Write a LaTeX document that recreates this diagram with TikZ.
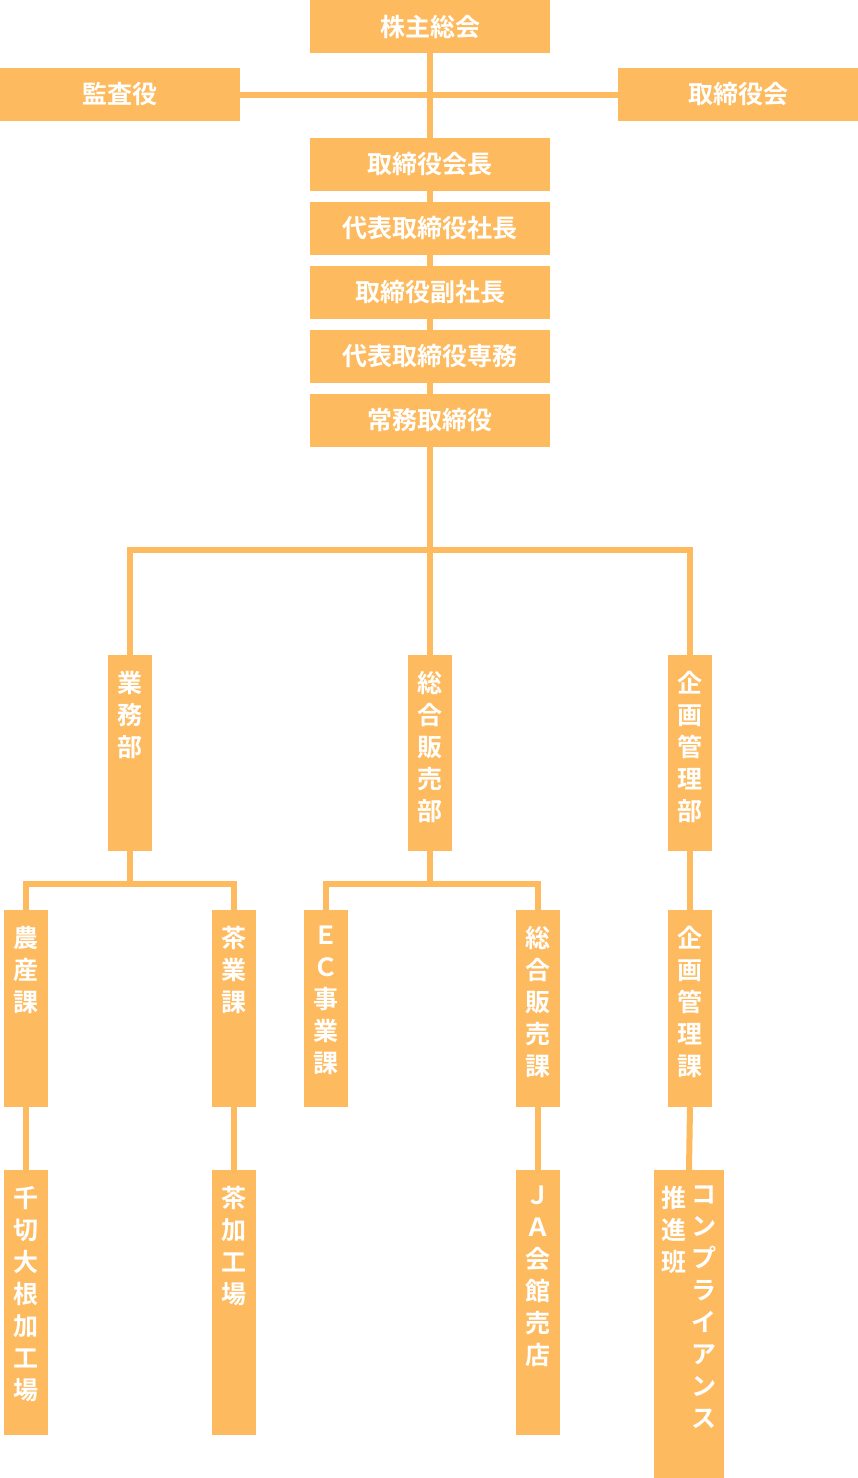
\documentclass[tikz,border=0pt]{standalone}
\usepackage{fontspec}
\newfontfamily\jp{Noto Sans CJK JP}[BoldFont={Noto Sans CJK JP Bold}]
\usetikzlibrary{backgrounds}
\definecolor{org}{HTML}{FDBA5E}
\tikzset{
  box/.style={fill=org,draw=none,inner sep=0pt},
  lbl/.style={text=white,font=\jp\bfseries\fontsize{25}{32}\selectfont,inner sep=0pt,align=center},
  conn/.style={draw=org,line width=6pt}
}
\newcommand{\bx}[5]{\node[box,minimum width={(#4-#2)*1pt},minimum height={(#5-#3)*1pt}] (#1) at ({(#2+#4)/2},{(#3+#5)/2}) {};}
\newcommand{\hl}[2]{\node[lbl] at (#1) {#2};}
\newcommand{\vl}[2]{\node[lbl,anchor=north] at ([yshift=-16pt]#1.north) {#2};}
\begin{document}
\begin{tikzpicture}[x=1pt,y=-1pt]
\useasboundingbox (0,0) rectangle (858,1478);
\bx{kabu}{310}{0}{550}{53}\hl{kabu}{株主総会}
\bx{kansa}{0}{68}{240}{121}\hl{kansa}{監査役}
\bx{tori}{618}{68}{858}{121}\hl{tori}{取締役会}
\bx{kaicho}{310}{138}{550}{191}\hl{kaicho}{取締役会長}
\bx{shacho}{310}{202}{550}{255}\hl{shacho}{代表取締役社長}
\bx{fuku}{310}{266}{550}{319}\hl{fuku}{取締役副社長}
\bx{senmu}{310}{330}{550}{383}\hl{senmu}{代表取締役専務}
\bx{joumu}{310}{394}{550}{447}\hl{joumu}{常務取締役}
\bx{gyomu}{108}{655}{152}{851}\vl{gyomu}{業\\務\\部}
\bx{sogo}{408}{655}{452}{851}\vl{sogo}{総\\合\\販\\売\\部}
\bx{kikaku}{668}{655}{712}{851}\vl{kikaku}{企\\画\\管\\理\\部}
\bx{nosan}{4}{910}{48}{1107}\vl{nosan}{農\\産\\課}
\bx{cha}{212}{910}{256}{1107}\vl{cha}{茶\\業\\課}
\bx{ec}{304}{910}{348}{1107}\vl{ec}{Ｅ\\Ｃ\\事\\業\\課}
\bx{sogoka}{516}{910}{560}{1107}\vl{sogoka}{総\\合\\販\\売\\課}
\bx{kikakuka}{668}{910}{712}{1107}\vl{kikakuka}{企\\画\\管\\理\\課}
\bx{sengiri}{4}{1170}{48}{1435}\vl{sengiri}{千\\切\\大\\根\\加\\工\\場}
\bx{chakako}{212}{1170}{256}{1435}\vl{chakako}{茶\\加\\工\\場}
\bx{ja}{516}{1170}{560}{1435}\vl{ja}{Ｊ\\Ａ\\会\\館\\売\\店}
\bx{comp}{654}{1170}{724}{1478}
\node[lbl,anchor=north] at ([xshift=15pt,yshift=-16pt]comp.north) {コ\\ン\\プ\\ラ\\イ\\ア\\ン\\ス};
\node[lbl,anchor=north] at ([xshift=-15pt,yshift=-16pt]comp.north) {推\\進\\班};
\coordinate (bus) at (430,550);
\coordinate (g) at (130,884);
\coordinate (s) at (430,884);
\begin{pgfonlayer}{background}
\draw[conn] (kabu.south) -- (bus);
\draw[conn] (kansa.east) -- (tori.west);
\draw[conn] (gyomu.north) |- (bus) -| (kikaku.north);
\draw[conn] (bus) -- (sogo.north);
\draw[conn] (gyomu.south) -- (g);
\draw[conn] (nosan.north) |- (g) -| (cha.north);
\draw[conn] (sogo.south) -- (s);
\draw[conn] (ec.north) |- (s) -| (sogoka.north);
\draw[conn] (kikaku.south) -- (kikakuka.north);
\draw[conn] (nosan.south) -- (sengiri.north);
\draw[conn] (cha.south) -- (chakako.north);
\draw[conn] (sogoka.south) -- (ja.north);
\draw[conn] (kikakuka.south) -- (comp.north);
\end{pgfonlayer}
\end{tikzpicture}
\end{document}
